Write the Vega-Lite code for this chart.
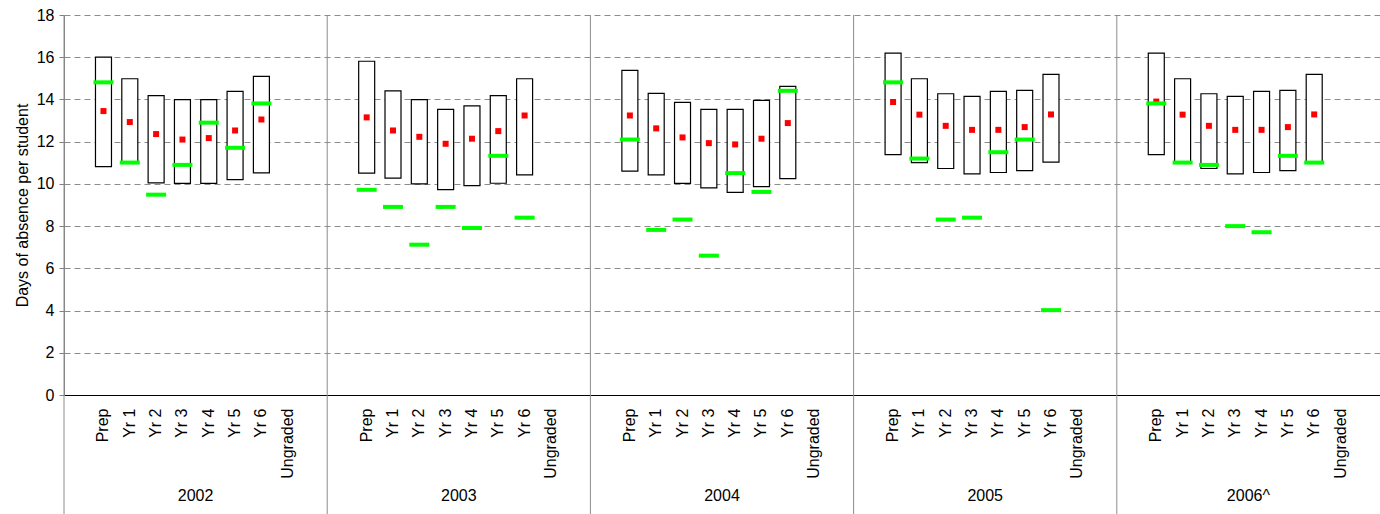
{
  "$schema": "https://vega.github.io/schema/vega-lite/v6.json",
  "width": 1316,
  "height": 380,
  "padding": {"left": 14, "top": 7, "right": 0, "bottom": 0},
  "config": {
    "view": {"stroke": null},
    "font": "Liberation Sans",
    "axis": {"labelFont": "Liberation Sans", "titleFont": "Liberation Sans", "labelColor": "#000000", "titleColor": "#000000"}
  },
  "datasets": {
    "stats": [
      {"key": "2002|Prep", "year": "2002", "cat": "Prep", "low": 10.82, "high": 16.0, "mean": 13.45, "school": 14.81},
      {"key": "2002|Yr 1", "year": "2002", "cat": "Yr 1", "low": 11.0, "high": 14.98, "mean": 12.93, "school": 11.01},
      {"key": "2002|Yr 2", "year": "2002", "cat": "Yr 2", "low": 10.05, "high": 14.18, "mean": 12.36, "school": 9.49},
      {"key": "2002|Yr 3", "year": "2002", "cat": "Yr 3", "low": 10.02, "high": 13.99, "mean": 12.1, "school": 10.9},
      {"key": "2002|Yr 4", "year": "2002", "cat": "Yr 4", "low": 10.02, "high": 13.99, "mean": 12.17, "school": 12.9},
      {"key": "2002|Yr 5", "year": "2002", "cat": "Yr 5", "low": 10.2, "high": 14.38, "mean": 12.53, "school": 11.71},
      {"key": "2002|Yr 6", "year": "2002", "cat": "Yr 6", "low": 10.52, "high": 15.09, "mean": 13.05, "school": 13.81},
      {"key": "2003|Prep", "year": "2003", "cat": "Prep", "low": 10.51, "high": 15.81, "mean": 13.15, "school": 9.72},
      {"key": "2003|Yr 1", "year": "2003", "cat": "Yr 1", "low": 10.27, "high": 14.41, "mean": 12.53, "school": 8.91},
      {"key": "2003|Yr 2", "year": "2003", "cat": "Yr 2", "low": 10.0, "high": 13.99, "mean": 12.23, "school": 7.12},
      {"key": "2003|Yr 3", "year": "2003", "cat": "Yr 3", "low": 9.73, "high": 13.53, "mean": 11.9, "school": 8.91},
      {"key": "2003|Yr 4", "year": "2003", "cat": "Yr 4", "low": 9.92, "high": 13.7, "mean": 12.14, "school": 7.91},
      {"key": "2003|Yr 5", "year": "2003", "cat": "Yr 5", "low": 10.03, "high": 14.18, "mean": 12.5, "school": 11.33},
      {"key": "2003|Yr 6", "year": "2003", "cat": "Yr 6", "low": 10.43, "high": 14.98, "mean": 13.24, "school": 8.4},
      {"key": "2004|Prep", "year": "2004", "cat": "Prep", "low": 10.6, "high": 15.38, "mean": 13.24, "school": 12.1},
      {"key": "2004|Yr 1", "year": "2004", "cat": "Yr 1", "low": 10.43, "high": 14.29, "mean": 12.63, "school": 7.82},
      {"key": "2004|Yr 2", "year": "2004", "cat": "Yr 2", "low": 10.02, "high": 13.86, "mean": 12.2, "school": 8.31},
      {"key": "2004|Yr 3", "year": "2004", "cat": "Yr 3", "low": 9.81, "high": 13.53, "mean": 11.93, "school": 6.6},
      {"key": "2004|Yr 4", "year": "2004", "cat": "Yr 4", "low": 9.6, "high": 13.53, "mean": 11.87, "school": 10.51},
      {"key": "2004|Yr 5", "year": "2004", "cat": "Yr 5", "low": 9.87, "high": 13.96, "mean": 12.14, "school": 9.62},
      {"key": "2004|Yr 6", "year": "2004", "cat": "Yr 6", "low": 10.25, "high": 14.62, "mean": 12.88, "school": 14.41},
      {"key": "2005|Prep", "year": "2005", "cat": "Prep", "low": 11.39, "high": 16.19, "mean": 13.88, "school": 14.81},
      {"key": "2005|Yr 1", "year": "2005", "cat": "Yr 1", "low": 11.01, "high": 14.98, "mean": 13.28, "school": 11.2},
      {"key": "2005|Yr 2", "year": "2005", "cat": "Yr 2", "low": 10.73, "high": 14.27, "mean": 12.75, "school": 8.31},
      {"key": "2005|Yr 3", "year": "2005", "cat": "Yr 3", "low": 10.47, "high": 14.15, "mean": 12.56, "school": 8.4},
      {"key": "2005|Yr 4", "year": "2005", "cat": "Yr 4", "low": 10.54, "high": 14.38, "mean": 12.56, "school": 11.5},
      {"key": "2005|Yr 5", "year": "2005", "cat": "Yr 5", "low": 10.63, "high": 14.43, "mean": 12.69, "school": 12.1},
      {"key": "2005|Yr 6", "year": "2005", "cat": "Yr 6", "low": 11.03, "high": 15.19, "mean": 13.29, "school": 4.02},
      {"key": "2006^|Prep", "year": "2006^", "cat": "Prep", "low": 11.39, "high": 16.19, "mean": 13.9, "school": 13.81},
      {"key": "2006^|Yr 1", "year": "2006^", "cat": "Yr 1", "low": 11.01, "high": 14.98, "mean": 13.28, "school": 11.01},
      {"key": "2006^|Yr 2", "year": "2006^", "cat": "Yr 2", "low": 10.73, "high": 14.27, "mean": 12.75, "school": 10.9},
      {"key": "2006^|Yr 3", "year": "2006^", "cat": "Yr 3", "low": 10.47, "high": 14.15, "mean": 12.56, "school": 8.0},
      {"key": "2006^|Yr 4", "year": "2006^", "cat": "Yr 4", "low": 10.54, "high": 14.38, "mean": 12.56, "school": 7.71},
      {"key": "2006^|Yr 5", "year": "2006^", "cat": "Yr 5", "low": 10.63, "high": 14.43, "mean": 12.69, "school": 11.33},
      {"key": "2006^|Yr 6", "year": "2006^", "cat": "Yr 6", "low": 11.03, "high": 15.19, "mean": 13.29, "school": 11.01}
    ],
    "dividers": [
      {"key": "2002|"}, {"key": "2003|"}, {"key": "2004|"}, {"key": "2005|"}, {"key": "2006^|"}
    ],
    "years": [
      {"key": "2002|Yr 4", "label": "2002"},
      {"key": "2003|Yr 4", "label": "2003"},
      {"key": "2004|Yr 4", "label": "2004"},
      {"key": "2005|Yr 4", "label": "2005"},
      {"key": "2006^|Yr 4", "label": "2006^"}
    ]
  },
  "encoding": {
    "x": {
      "field": "key",
      "type": "nominal",
      "scale": {
        "type": "band",
        "paddingInner": 0,
        "paddingOuter": 0,
        "domain": [
          "2002|", "2002|Prep", "2002|Yr 1", "2002|Yr 2", "2002|Yr 3", "2002|Yr 4", "2002|Yr 5", "2002|Yr 6", "2002|Ungraded", "2002| ",
          "2003|", "2003|Prep", "2003|Yr 1", "2003|Yr 2", "2003|Yr 3", "2003|Yr 4", "2003|Yr 5", "2003|Yr 6", "2003|Ungraded", "2003| ",
          "2004|", "2004|Prep", "2004|Yr 1", "2004|Yr 2", "2004|Yr 3", "2004|Yr 4", "2004|Yr 5", "2004|Yr 6", "2004|Ungraded", "2004| ",
          "2005|", "2005|Prep", "2005|Yr 1", "2005|Yr 2", "2005|Yr 3", "2005|Yr 4", "2005|Yr 5", "2005|Yr 6", "2005|Ungraded", "2005| ",
          "2006^|", "2006^|Prep", "2006^|Yr 1", "2006^|Yr 2", "2006^|Yr 3", "2006^|Yr 4", "2006^|Yr 5", "2006^|Yr 6", "2006^|Ungraded", "2006^| "
        ]
      },
      "axis": {
        "title": null,
        "labelExpr": "split(datum.label, '|')[1]",
        "labelAngle": 270,
        "labelFontSize": 16,
        "labelPadding": 13,
        "ticks": false,
        "grid": false,
        "domainColor": "#000000",
        "domainWidth": 1,
        "labelOverlap": false
      }
    }
  },
  "layer": [
    {
      "data": {"name": "dividers"},
      "mark": {"type": "rule", "color": "#8c8c8c", "strokeWidth": 1},
      "encoding": {
        "x": {"field": "key", "type": "nominal", "bandPosition": 0},
        "y": {"datum": 18, "type": "quantitative"},
        "y2": {"datum": -5.7}
      }
    },
    {
      "data": {"name": "years"},
      "mark": {"type": "text", "fontSize": 16, "baseline": "middle", "align": "center", "color": "#000000"},
      "encoding": {
        "x": {"field": "key", "type": "nominal", "bandPosition": 0},
        "y": {"datum": -4.8, "type": "quantitative"},
        "text": {"field": "label"}
      }
    },
    {
      "data": {"name": "stats"},
      "mark": {"type": "bar", "size": 16, "fill": "#ffffff", "stroke": "#000000", "strokeWidth": 1.2},
      "encoding": {
        "y": {
          "field": "high",
          "type": "quantitative",
          "scale": {"domain": [0, 18], "nice": false},
          "axis": {
            "title": "Days of absence per student",
            "titleFontSize": 16,
            "titleFontWeight": "normal",
            "titlePadding": 6,
            "values": [0, 2, 4, 6, 8, 10, 12, 14, 16, 18],
            "labelFontSize": 16,
            "labelPadding": 5,
            "tickSize": 5,
            "tickColor": "#808080",
            "domainColor": "#808080",
            "grid": true,
            "gridColor": "#8c8c8c",
            "gridDash": [6, 4],
            "gridWidth": 1
          }
        },
        "y2": {"field": "low"}
      }
    },
    {
      "data": {"name": "stats"},
      "mark": {"type": "point", "shape": "square", "filled": true, "size": 36, "color": "#ff0000", "opacity": 1},
      "encoding": {
        "y": {"field": "mean", "type": "quantitative"}
      }
    },
    {
      "data": {"name": "stats"},
      "mark": {"type": "tick", "thickness": 4, "size": 20, "color": "#00ff00", "opacity": 1},
      "encoding": {
        "y": {"field": "school", "type": "quantitative"}
      }
    }
  ]
}
